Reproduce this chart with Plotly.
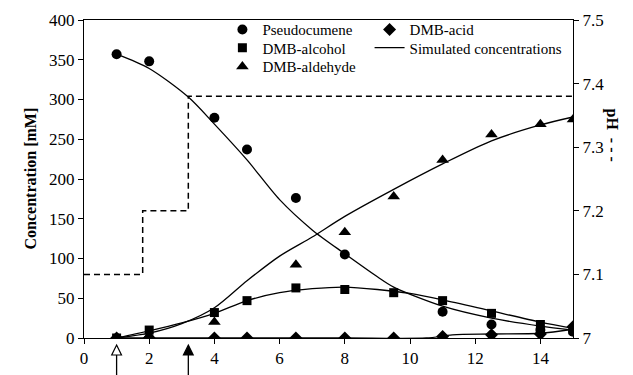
import plotly.graph_objects as go

# Measured concentrations (mM) versus time (h)
pseudo_t = [1, 2, 4, 5, 6.5, 8, 11, 12.5, 14, 15]
pseudo_c = [357, 348, 277, 237, 176, 105, 33, 17, 10, 8]

alcohol_t = [1, 2, 4, 5, 6.5, 8, 9.5, 11, 12.5, 14, 15]
alcohol_c = [0, 10, 32, 47, 63, 61, 57, 47, 31, 17, 10]

aldehyde_t = [1, 2, 4, 6.5, 8, 9.5, 11, 12.5, 14, 15]
aldehyde_c = [0, 3, 20, 92, 133, 178, 224, 256, 269, 275]

acid_t = [1, 2, 4, 5, 6.5, 8, 9.5, 11, 12.5, 14, 15]
acid_c = [0, 0, 0, 0, 0, 0, 0, 2, 4, 5, 14]

# Simulated concentrations (mM)
sim_pseudo_t = [1, 2, 3.2, 4, 5, 6, 7, 8, 9, 9.5, 11, 12.5, 14, 15]
sim_pseudo_c = [357, 339, 303, 269, 224, 174, 136, 106, 77, 64, 40, 25, 15, 10]

sim_alcohol_t = [1, 2, 3, 4, 5, 6, 7, 8, 9, 10, 11, 12.5, 14, 15]
sim_alcohol_c = [0, 9, 19, 31, 47, 57, 62, 64, 61, 56, 48, 34, 20, 12]

sim_aldehyde_t = [1, 2, 3, 4, 5, 6, 7, 8, 9.5, 11, 12.5, 14, 15]
sim_aldehyde_c = [0, 6, 18, 38, 72, 103, 127, 153, 187, 219, 248, 268, 278]

sim_acid_t = [1, 4, 8, 10.5, 11.3, 12.5, 14, 15]
sim_acid_c = [0, 0, 0, 0, 4, 5, 6, 11]

# pH set-point profile
ph_t = [0, 1.8, 1.8, 3.2, 3.2, 15]
ph_v = [7.1, 7.1, 7.2, 7.2, 7.38, 7.38]

# Feeding events marked under the time axis (open = first, filled = second)
event_times = [1.0, 3.2]
event_fill = ["white", "black"]

x_ticks = [0, 2, 4, 6, 8, 10, 12, 14]

FONT = "Liberation Serif, Times New Roman, serif"
BLACK = "black"

fig = go.Figure()

# pH profile on secondary axis
fig.add_trace(go.Scatter(
    x=ph_t, y=ph_v, mode="lines", yaxis="y2", showlegend=False,
    line=dict(color=BLACK, width=1.5, dash="6px,4px"), hoverinfo="skip"))

# Simulated curves
sims = [(sim_pseudo_t, sim_pseudo_c), (sim_alcohol_t, sim_alcohol_c),
        (sim_aldehyde_t, sim_aldehyde_c), (sim_acid_t, sim_acid_c)]
for i, (t, c) in enumerate(sims):
    fig.add_trace(go.Scatter(
        x=t, y=c, mode="lines",
        line=dict(color=BLACK, width=1.3, shape="spline", smoothing=0.8),
        name="Simulated concentrations", showlegend=(i == 0), legend="legend5"))

# Measured markers, each with its own legend slot
fig.add_trace(go.Scatter(x=pseudo_t, y=pseudo_c, mode="markers", name="Pseudocumene",
                         marker=dict(symbol="circle", size=10, color=BLACK), legend="legend"))
fig.add_trace(go.Scatter(x=alcohol_t, y=alcohol_c, mode="markers", name="DMB-alcohol",
                         marker=dict(symbol="square", size=9, color=BLACK), legend="legend2"))
fig.add_trace(go.Scatter(x=aldehyde_t, y=aldehyde_c, mode="markers", name="DMB-aldehyde",
                         marker=dict(symbol="triangle-up", size=11, color=BLACK), legend="legend3"))
fig.add_trace(go.Scatter(x=acid_t, y=acid_c, mode="markers", name="DMB-acid",
                         marker=dict(symbol="diamond", size=10, color=BLACK), legend="legend4"))

# Event arrows below the x axis
shapes = []
tip, base, foot, half = -0.022, -0.0535, -0.12, 0.15
for t, fill in zip(event_times, event_fill):
    shapes.append(dict(type="line", xref="x", yref="paper", x0=t, x1=t, y0=base, y1=foot,
                       line=dict(color=BLACK, width=1.3)))
    shapes.append(dict(type="path", xref="x", yref="paper",
                       path=f"M {t},{tip} L {t + half},{base} L {t - half},{base} Z",
                       fillcolor=fill, line=dict(color=BLACK, width=1.2)))

axis_common = dict(showgrid=False, zeroline=False, showline=True, linecolor=BLACK,
                   linewidth=1, ticks="outside", ticklen=5, tickcolor=BLACK,
                   automargin=False,
                   tickfont=dict(family=FONT, size=17, color=BLACK))


def legend_at(x, y):
    return dict(x=x, y=y, font=dict(family=FONT, size=15, color=BLACK),
                bgcolor="rgba(0,0,0,0)", yanchor="top", xanchor="left", itemwidth=30)


col1, col2 = 0.283, 0.584
row1, row2, row3 = 1.021, 0.964, 0.905

fig.update_layout(
    width=633, height=375,
    margin=dict(l=84, r=60, t=20, b=37, autoexpand=False),
    paper_bgcolor="white", plot_bgcolor="white",
    font=dict(family=FONT, color=BLACK),
    xaxis=dict(range=[0, 15], tickvals=x_ticks, mirror=True, **axis_common),
    yaxis=dict(range=[0, 400], dtick=50, **axis_common),
    yaxis2=dict(range=[7, 7.5], dtick=0.1, overlaying="y", side="right", **axis_common),
    legend=legend_at(col1, row1),
    legend2=legend_at(col1, row2),
    legend3=legend_at(col1, row3),
    legend4=legend_at(col2, row1),
    legend5=legend_at(col2, row2),
    shapes=shapes,
    annotations=[
        dict(text="<b>Concentration [mM]</b>", xref="paper", yref="paper",
             x=0, y=0.5, xshift=-65, textangle=-90, showarrow=False,
             font=dict(family=FONT, size=16, color=BLACK)),
        dict(text="<b>pH  - - -</b>", xref="paper", yref="paper",
             x=1, y=0.64, xshift=50, textangle=90, showarrow=False,
             font=dict(family=FONT, size=16, color=BLACK)),
    ],
)

fig.write_html("out.html")
